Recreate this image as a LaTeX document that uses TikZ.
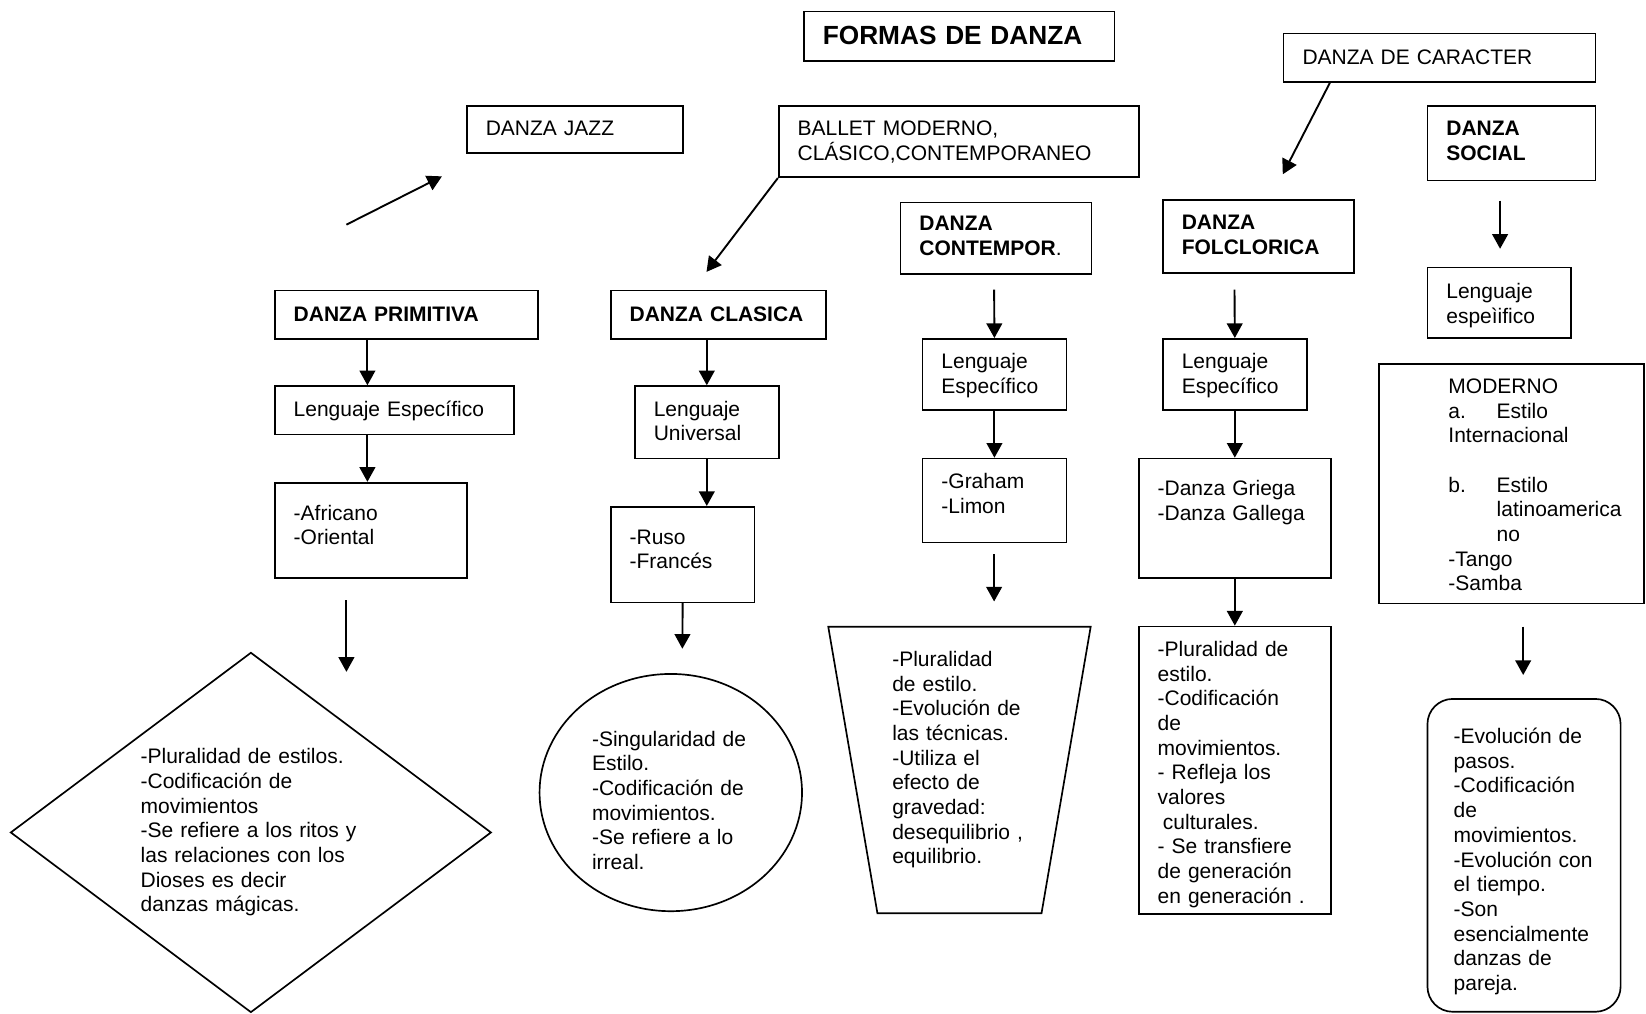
\documentclass[tikz,border=0pt]{standalone}
\usepackage{fontspec}
\setmainfont{Liberation Sans}
\usetikzlibrary{positioning}
\usetikzlibrary{arrows.meta}
\usetikzlibrary{shapes.geometric}

\begin{document}
\begin{tikzpicture}[x=0.5pt, y=-0.5pt,
  every node/.style={font=\fontsize{10}{11.75}\selectfont},
  box/.style={draw, line width=0.8pt, anchor=north west, align=left, inner xsep=9pt, inner ysep=0pt},
  arr/.style={line width=0.9pt, -{Triangle[length=7pt,width=7.5pt]}}]

\useasboundingbox (0,0) rectangle (1568,965);

% top row
\node[box, font=\fontsize{12.5}{15}\selectfont\bfseries, minimum width=148pt, text width=130pt, text height=16pt, text depth=7.5pt] (formas) at (765,10) {FORMAS DE DANZA};
\node[box, minimum width=148.5pt, text width=130.5pt, text height=14.6pt, text depth=8.4pt] (caracter) at (1222,31) {DANZA DE CARACTER};
\node[box, minimum width=103pt, text width=85pt, text height=14.1pt, text depth=8.4pt] (jazz) at (444,100) {DANZA JAZZ};
\node[box, minimum width=171.5pt, text width=153.5pt, text height=14.1pt, text depth=19.9pt] (ballet) at (741,100) {BALLET MODERNO,\\CLÁSICO,CONTEMPORANEO};
\node[box, minimum width=80pt, text width=62pt, text height=14.1pt, text depth=21.4pt] (social) at (1359,100) {\textbf{DANZA}\\\textbf{SOCIAL}};

% second row
\node[box, minimum width=91pt, text width=73pt, text height=13.6pt, text depth=20.4pt] (contempor) at (857,192) {\textbf{DANZA}\\\textbf{CONTEMPOR}.};
\node[box, minimum width=91pt, text width=73pt, text height=14.1pt, text depth=20.4pt] (folclorica) at (1107,190) {\textbf{DANZA}\\\textbf{FOLCLORICA}};
\node[box, minimum width=125.5pt, text width=107.5pt, text height=14.6pt, text depth=8.4pt] (primitiva) at (261,276) {\textbf{DANZA PRIMITIVA}};
\node[box, minimum width=102.5pt, text width=84.5pt, text height=14.6pt, text depth=8.4pt] (clasica) at (581,276) {\textbf{DANZA CLASICA}};
\node[box, minimum width=68.5pt, text width=50.5pt, text height=14.8pt, text depth=18.7pt] (lsoc) at (1359,254) {Lenguaje\\espeìifico};

% lenguaje
\node[box, minimum width=114pt, text width=96pt, text height=14.3pt, text depth=8.7pt] (lprim) at (261,367) {Lenguaje Específico};
\node[box, minimum width=68.5pt, text width=50.5pt, text height=14.3pt, text depth=20.2pt] (luniv) at (604,367) {Lenguaje\\Universal};
\node[box, minimum width=68.5pt, text width=50.5pt, text height=14.3pt, text depth=19.7pt] (lcon) at (878,322) {Lenguaje\\Específico};
\node[box, minimum width=68.5pt, text width=50.5pt, text height=14.3pt, text depth=19.7pt] (lfol) at (1107,322) {Lenguaje\\Específico};
\node[box, minimum width=126pt, text width=108pt, text height=14pt, text depth=100pt] (moderno) at (1313,346)
  {\leftskip=24pt MODERNO\\\makebox[23pt][l]{a.}Estilo\\Internacional\\[11.75pt]\makebox[23pt][l]{b.}Estilo\\\hspace*{23pt}latinoamerica\\\hspace*{23pt}no\\-Tango\\-Samba\par};

% estilos
\node[box, minimum width=91.5pt, text width=73.5pt, text height=17.8pt, text depth=27.7pt] (afr) at (261,459) {-Africano\\-Oriental};
\node[box, minimum width=68.5pt, text width=50.5pt, text height=17.8pt, text depth=27.7pt] (ruso) at (581,482) {-Ruso\\-Francés};
\node[box, minimum width=68.5pt, text width=50.5pt, text height=14.3pt, text depth=25.7pt] (graham) at (878,436) {-Graham\\-Limon};
\node[box, minimum width=91.5pt, text width=73.5pt, text height=17.8pt, text depth=39.2pt] (griega) at (1084,436) {-Danza Griega\\-Danza Gallega};

% rasgos
\node[draw, diamond, aspect=1.335, line width=0.8pt, minimum width=229pt, minimum height=171.5pt, text width=105pt, align=left, inner sep=0pt] (rprim) at (239,793)
  {-Pluralidad de estilos.\\-Codificación de\\movimientos\\-Se refiere a los ritos y\\las relaciones con los\\Dioses es decir\\danzas mágicas.};
\node[draw, ellipse, line width=0.8pt, minimum width=125pt, minimum height=113pt, text width=75pt, text height=14.5pt, align=left, inner sep=0pt] (rclas) at (639,755)
  {-Singularidad de\\Estilo.\\-Codificación de\\movimientos.\\-Se refiere a lo\\irreal.};
\node[draw, trapezium, trapezium angle=78.7, shape border rotate=180, trapezium stretches body=true, line width=0.8pt, minimum width=125pt, minimum height=136.5pt, text width=64pt, text depth=106pt, align=left, inner sep=2pt] (rcon) at (914,733.5)
  {-Pluralidad\\de estilo.\\-Evolución de\\las técnicas.\\-Utiliza el\\efecto de\\gravedad:\\desequilibrio ,\\equilibrio.};
\node[box, minimum width=91.5pt, text width=73.5pt, text height=14.3pt, text depth=122.7pt] (rfol) at (1084,596)
  {-Pluralidad de\\estilo.\\-Codificación\\de\\movimientos.\\- Refleja los\\valores\\\hspace*{2.5pt}culturales.\\- Se transfiere\\de generación\\en generación .};
\node[box, rounded corners=12pt, inner xsep=12.5pt, minimum width=92pt, text width=67pt, text height=21.3pt, text depth=127.7pt] (rsoc) at (1359,665)
  {-Evolución de\\pasos.\\-Codificación\\de\\movimientos.\\-Evolución con\\el tiempo.\\-Son\\esencialmente\\danzas de\\pareja.};

% flechas
\coordinate (jz1) at (330,214);
\coordinate (jz2) at (421,168);
\draw[arr] (jz1) -- (jz2);
\coordinate (cltip) at (673,259);
\draw[arr] (ballet.south west) -- (cltip);
\coordinate (fotip) at (1222,166);
\draw[arr] ([xshift=22.5pt]caracter.south west) -- (fotip);
\coordinate (so1) at (1429,191);
\coordinate (so2) at (1429,237);
\draw[arr] (so1) -- (so2);

\draw[arr] ([xshift=44.5pt]primitiva.south west) -- ([xshift=44.5pt]lprim.north west);
\draw[arr] ([xshift=44.5pt]lprim.south west) -- ([xshift=44.5pt]afr.north west);
\coordinate (af1) at (330,572);
\coordinate (af2) at (330,640);
\draw[arr] (af1) -- (af2);

\draw[arr] (clasica.south -| luniv.north) -- (luniv.north);
\draw[arr] (luniv.south) -- (luniv.south |- ruso.north);
\coordinate (ru2) at (650,618);
\draw[arr] (ruso.south) -- (ru2);

\coordinate (co1) at (947,276);
\draw[arr] (co1) -- (lcon.north);
\draw[arr] (lcon.south) -- (graham.north);
\coordinate (gr1) at (947,528);
\coordinate (gr2) at (947,573);
\draw[arr] (gr1) -- (gr2);

\coordinate (fo1) at (1176,276);
\draw[arr] (fo1) -- (lfol.north);
\draw[arr] (lfol.south) -- (griega.north);
\draw[arr] (griega.south) -- (rfol.north);
\coordinate (mo1) at (1451,597);
\coordinate (mo2) at (1451,643);
\draw[arr] (mo1) -- (mo2);

\end{tikzpicture}
\end{document}
